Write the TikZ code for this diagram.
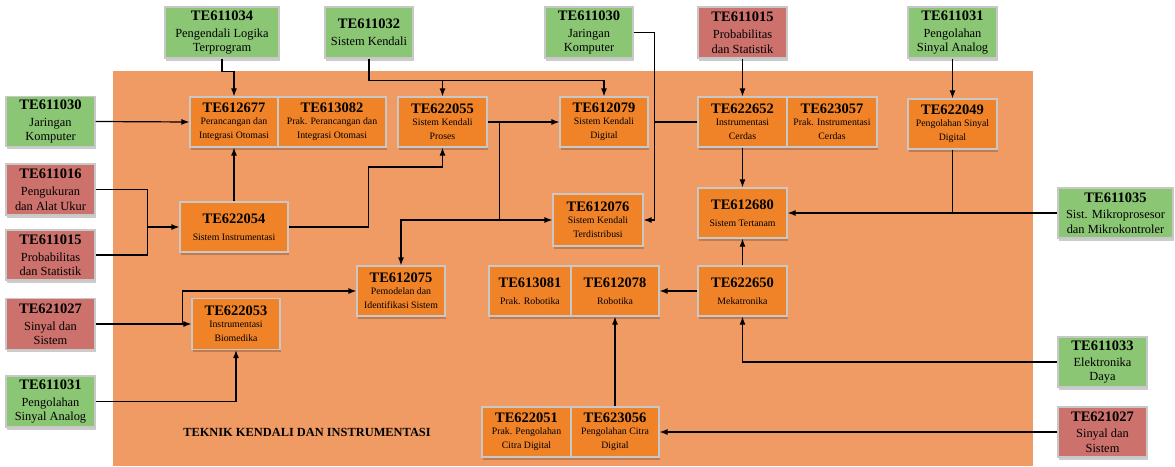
\documentclass[tikz,border=0pt]{standalone}
\usepackage{fontspec}
\setmainfont{Liberation Serif}
\usetikzlibrary{arrows.meta,shadows}

\definecolor{bgorange}{HTML}{F09B64}
\definecolor{boxorange}{HTML}{F08228}
\definecolor{boxgreen}{HTML}{8BC674}
\definecolor{boxred}{HTML}{CD716C}
\definecolor{boxline}{HTML}{C8C8C8}

\newcommand{\kodemk}[1]{{\fontsize{14.5}{15}\selectfont\bfseries #1}}

\begin{document}
\begin{tikzpicture}[x=1pt, y=-1pt,
	mk/.style={draw=boxline, line width=1.2pt, inner sep=0pt, align=center,
		minimum width=89pt, minimum height=50pt,
		drop shadow={shadow xshift=1pt, shadow yshift=-2.5pt, opacity=.2, fill=black}},
	hijau/.style={mk, fill=boxgreen, font=\fontsize{12.4}{14.5}\selectfont},
	merah/.style={mk, fill=boxred, font=\fontsize{12.4}{14.5}\selectfont},
	dalam/.style={mk, fill=boxorange, font=\fontsize{9.8}{14}\selectfont},
	garis/.style={line width=1.2pt},
	panah/.style={garis, -{Latex[length=8pt,width=6pt]}}]
			%%%%% START %%%%%
			
			\useasboundingbox (0,0) rectangle (1175,466);
			\fill[bgorange] (113,71) rectangle (1033,466);
			
			\node[font=\fontsize{12.4}{14}\selectfont\bfseries] (judul) at (307,432) {TEKNIK KENDALI DAN INSTRUMENTASI};
			
			% prasyarat di luar
			\node[hijau, minimum width=114pt, minimum height=51pt] (te611034) at (222,32.5) {\kodemk{TE611034}\\[2.5pt]Pengendali Logika\\Terprogram};
			\node[hijau, minimum width=88pt, minimum height=51pt] (te611032) at (369,32.5) {\kodemk{TE611032}\\[2.5pt]Sistem Kendali};
			\node[hijau, minimum width=88pt, minimum height=51pt] (te611030a) at (589,32.5) {\kodemk{TE611030}\\[2.5pt]Jaringan\\Komputer};
			\node[merah, minimum height=51pt] (te611015a) at (742.5,32.5) {\kodemk{TE611015}\\[2.5pt]Probabilitas\\dan Statistik};
			\node[hijau, minimum height=51pt] (te611031a) at (952.5,32.5) {\kodemk{TE611031}\\[2.5pt]Pengolahan\\Sinyal Analog};
			
			\node[hijau] (te611030b) at (50.5,121.5) {\kodemk{TE611030}\\[2.5pt]Jaringan\\Komputer};
			\node[merah, minimum height=51pt] (te611016) at (50.5,189.5) {\kodemk{TE611016}\\[2.5pt]Pengukuran\\dan Alat Ukur};
			\node[merah] (te611015b) at (50.5,255) {\kodemk{TE611015}\\[2.5pt]Probabilitas\\dan Statistik};
			\node[merah, minimum height=51pt] (te621027a) at (50.5,324) {\kodemk{TE621027}\\[2.5pt]Sinyal dan\\Sistem};
			\node[hijau, minimum height=51pt] (te611031b) at (50.5,401.5) {\kodemk{TE611031}\\[2.5pt]Pengolahan\\Sinyal Analog};
			
			\node[hijau, minimum width=115pt] (te611035) at (1115.5,213) {\kodemk{TE611035}\\[1.5pt]Sist. Mikroprosesor\\dan Mikrokontroler};
			\node[hijau] (te611033) at (1102.5,362) {\kodemk{TE611033}\\[1.5pt]Elektronika\\Daya};
			\node[merah] (te621027b) at (1102.5,432) {\kodemk{TE621027}\\[1.5pt]Sinyal dan\\Sistem};
			
			% mata kuliah peminatan
			\node[dalam, minimum width=88pt] (te612677) at (234,122) {\kodemk{TE612677}\\[-2pt]Perancangan dan\\Integrasi Otomasi};
			\node[dalam, minimum width=108pt] (te613082) at (332,122) {\kodemk{TE613082}\\[-2pt]Prak. Perancangan dan\\Integrasi Otomasi};
			\node[dalam] (te622055) at (442.5,122) {\kodemk{TE622055}\\[-2pt]Sistem Kendali\\Proses};
			\node[dalam, minimum width=88pt] (te612079) at (604,122) {\kodemk{TE612079}\\[-2pt]Sistem Kendali\\Digital};
			\node[dalam] (te622652) at (742.5,122) {\kodemk{TE622652}\\[-2pt]Instrumentasi\\Cerdas};
			\node[dalam, minimum width=90pt] (te623057) at (832,122) {\kodemk{TE623057}\\[-2pt]Prak. Instrumentasi\\Cerdas};
			\node[dalam] (te622049) at (952.5,124) {\kodemk{TE622049}\\[-2pt]Pengolahan Sinyal\\Digital};
			
			\node[dalam, minimum width=108pt] (te622054) at (234,227) {\kodemk{TE622054}\\[3pt]Sistem Instrumentasi};
			\node[dalam, minimum width=90pt, minimum height=52pt] (te612076) at (598,220) {\kodemk{TE612076}\\[-2pt]Sistem Kendali\\Terdistribusi};
			\node[dalam] (te612680) at (742.5,213) {\kodemk{TE612680}\\[3pt]Sistem Tertanam};
			
			\node[dalam, minimum width=88pt] (te612075) at (401,291) {\kodemk{TE612075}\\[-2pt]Pemodelan dan\\Identifikasi Sistem};
			\node[dalam, minimum width=82pt] (te613081) at (530,291) {\kodemk{TE613081}\\[3pt]Prak. Robotika};
			\node[dalam, minimum width=88pt] (te612078) at (615,291) {\kodemk{TE612078}\\[3pt]Robotika};
			\node[dalam] (te622650) at (742.5,291) {\kodemk{TE622650}\\[3pt]Mekatronika};
			\node[dalam, minimum width=88pt, minimum height=51pt] (te622053) at (236,324) {\kodemk{TE622053}\\[-2pt]Instrumentasi\\Biomedika};
			
			\node[dalam] (te622051) at (526.5,432) {\kodemk{TE622051}\\[-2pt]Prak. Pengolahan\\Citra Digital};
			\node[dalam, minimum width=88pt] (te623056) at (615,432) {\kodemk{TE623056}\\[-2pt]Pengolahan Citra\\Digital};
			
			% hubungan
			\draw[panah] (te611034.south) -- ++(0,13) -| (te612677.north);
			\draw[panah] (te611032.south) -- ++(0,22) coordinate (k1) -| (te612079.north);
			\draw[panah] (te622055.north |- k1) -- (te622055.north);
			\draw[panah] (te611030a.east) -- ++(21,0) coordinate (k2) |- (te612076.east);
			\draw[garis] (te622652.west) -- (te622652.west -| k2);
			\draw[panah] (te611015a.south) -- (te622652.north);
			\draw[panah] (te622652.south) -- (te612680.north);
			\draw[panah] (te611031a.south) -- (te622049.north);
			\draw[panah] (te611035.west) -- (te612680.east);
			\draw[garis] (te622049.south) -- (te622049.south |- te612680.east);
			\draw[panah] (te622650.north) -- (te612680.south);
			\draw[panah] (te622650.west) -- (te612078.east);
			\draw[panah] (te611033.west) -| (te622650.south);
			\draw[panah] (te621027b.west) -- (te623056.east);
			\draw[panah] (te623056.north) -- (te612078.south);
			
			\draw[panah] (te611030b.east) -- (te612677.west);
			\draw[panah] (te622054.north) -- (te612677.south);
			\coordinate (k3) at ([xshift=-32pt]te622054.west);
			\draw[garis] (te611016.east) -| (k3);
			\draw[garis] (te611015b.east) -| (k3);
			\draw[panah] (k3) -- (te622054.west);
			\draw[panah] (te622054.east) -| ++(80,-60) -| (te622055.south);
			\draw[panah] (te622055.east) -- (te612079.west);
			\coordinate (k4) at ([xshift=12pt]te622055.east);
			\draw[panah] (k4) |- (te612076.west);
			\draw[panah] (k4 |- te612076.west) -| (te612075.north);
			\coordinate (k5) at ([xshift=-9pt]te622053.west);
			\draw[panah] (te621027a.east) -- (te622053.west);
			\draw[panah] (k5) |- (te612075.west);
			\draw[panah] (te611031b.east) -| (te622053.south);
			
			%%%%% END %%%%%
		\end{tikzpicture}
\end{document}
